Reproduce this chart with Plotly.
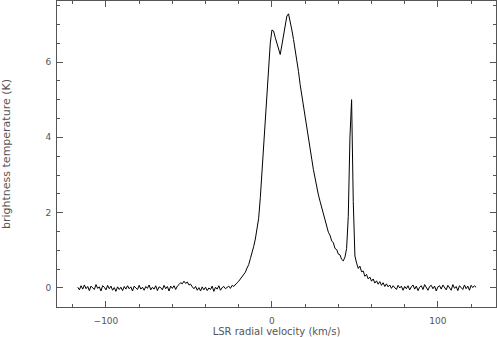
import numpy as np
import plotly.graph_objects as go

# channel grid, 1 km/s spacing
v_start, v_stop = -117, 123

# brightness temperature (K)
t_blue_baseline = [  # -117 .. -28
    0.02, -0.05, 0.06, -0.03, 0.08, -0.02, 0.04, -0.07, 0.05, 0.01,
    -0.04, 0.09, -0.01, 0.03, -0.08, 0.06, 0.02, -0.05, 0.07, -0.02,
    0.05, -0.06, 0.01, -0.09, 0.03, -0.04, 0.02, -0.07, 0.04, -0.03,
    0.06, -0.02, 0.03, -0.08, 0.05, 0.00, -0.04, 0.07, -0.03, 0.02,
    -0.06, 0.04, -0.01, 0.08, -0.05, 0.02, -0.03, 0.06, -0.07, 0.03,
    0.01, -0.05, 0.07, -0.02, 0.04, -0.08, 0.05, -0.01, 0.06, -0.04,
    0.05, 0.09, 0.14, 0.11, 0.18, 0.12, 0.16, 0.08, 0.10, 0.03,
    -0.02, 0.04, -0.06, 0.01, -0.08, 0.03, -0.05, 0.02, -0.07, 0.00,
    -0.04, 0.05, -0.09, 0.02, -0.03, 0.06, -0.06, 0.01, 0.04, -0.02,
]
t_main = [  # -27 .. 43
    0.01, 0.05, -0.01, 0.07, 0.04, 0.10, 0.14, 0.18, 0.24, 0.29,
    0.36, 0.42, 0.53, 0.62, 0.78, 0.92, 1.10, 1.30, 1.55, 1.85,
    2.40, 3.10, 3.75, 4.45, 5.10, 5.85, 6.50, 6.85,
    6.82, 6.65, 6.50, 6.30, 6.20, 6.45, 6.75, 7.05, 7.22, 7.28,
    7.10, 6.85, 6.60, 6.35, 6.10, 5.75, 5.40, 5.10, 4.80, 4.50,
    4.25, 4.00, 3.72, 3.42, 3.14, 2.90, 2.68, 2.47, 2.30, 2.12,
    1.97, 1.78, 1.66, 1.48, 1.40, 1.25, 1.20, 1.05, 1.02, 0.90,
    0.88, 0.76, 0.72,
]
t_narrow = [  # 44 .. 50
    0.82, 1.05, 1.90, 4.00, 5.00, 2.30, 0.85,
]
t_red_tail = [  # 51 .. 123
    0.66, 0.52, 0.58, 0.43, 0.45, 0.31, 0.36, 0.24, 0.29, 0.18,
    0.24, 0.13, 0.19, 0.10, 0.17, 0.07, 0.14, 0.04, 0.11, 0.03,
    0.08, -0.01, 0.06, 0.02, -0.04, 0.07, 0.00, 0.05, -0.06, 0.04,
    -0.02, 0.06, -0.05, 0.03, 0.08, -0.03, 0.05, -0.07, 0.02, 0.06,
    -0.04, 0.09, 0.01, -0.06, 0.04, 0.07, -0.02, 0.05, -0.08, 0.03,
    0.06, -0.03, 0.08, 0.00, -0.05, 0.07, 0.02, -0.06, 0.09, -0.01,
    0.04, -0.07, 0.06, 0.02, -0.04, 0.08, -0.02, 0.05, -0.06, 0.07,
    0.01, 0.06, 0.02,
]

temps = t_blue_baseline + t_main + t_narrow + t_red_tail
vel = np.arange(v_start, v_stop + 1)

fig = go.Figure()
fig.add_trace(go.Scatter(x=vel, y=temps, mode="lines",
                         line=dict(color="black", width=1), showlegend=False))

grey = "#555555"
tickfont = dict(family="DejaVu Sans", size=9, color=grey)
axis = dict(showline=True, linecolor=grey, linewidth=1, mirror="allticks",
            ticks="inside", ticklen=6, tickcolor=grey, tickwidth=1,
            showgrid=False, zeroline=False, tickfont=tickfont)

fig.update_xaxes(**axis, range=[-129.5, 135], dtick=100, tick0=0, ticklabelstandoff=5,
                 minor=dict(dtick=20, ticks="inside", ticklen=3, tickcolor=grey),
                 title=dict(text="LSR radial velocity (km/s)", standoff=1,
                            font=dict(family="DejaVu Sans", size=10, color=grey)))
fig.update_yaxes(**axis, range=[-0.505, 7.62], dtick=2, tick0=0, ticklabelstandoff=3,
                 minor=dict(dtick=0.5, ticks="inside", ticklen=3, tickcolor=grey),
                 title=dict(text="brightness temperature (K)", standoff=32,
                            font=dict(family="DejaVu Sans", size=11, color=grey)))

fig.update_layout(width=497, height=337, margin=dict(l=57, r=1, t=1, b=30),
                  plot_bgcolor="white", paper_bgcolor="white")

fig.write_html("out.html", config={"displayModeBar": False},
               post_script="document.body.style.margin='0';document.body.style.overflow='hidden';")
